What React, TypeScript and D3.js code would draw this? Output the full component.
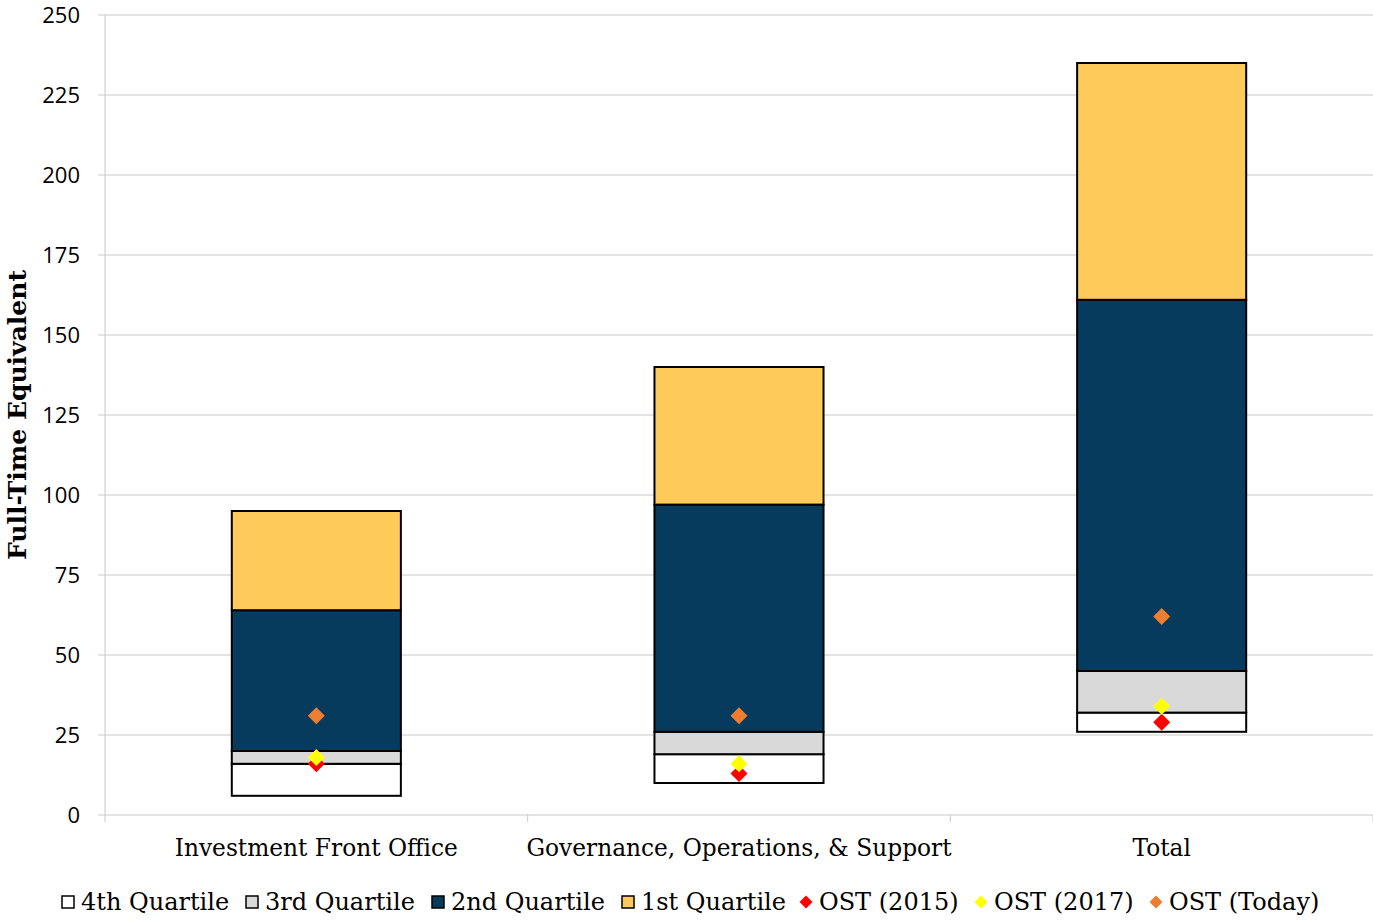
import React from "react";
import * as d3 from "d3";

const categories = ["Investment Front Office", "Governance, Operations, & Support", "Total"];
const baseOffset = [6, 10, 26];
const q4 = [10, 9, 6];
const q3 = [4, 7, 13];
const q2 = [44, 71, 116];
const q1 = [31, 43, 74];
const ost2015 = [16, 13, 29];
const ost2017 = [18, 16, 34];
const ostToday = [31, 31, 62];
const yTicks = [0, 25, 50, 75, 100, 125, 150, 175, 200, 225, 250];

const stackSeries = [
  { name: "4th Quartile", values: q4, color: "#FFFFFF" },
  { name: "3rd Quartile", values: q3, color: "#D9D9D9" },
  { name: "2nd Quartile", values: q2, color: "#073B5E" },
  { name: "1st Quartile", values: q1, color: "#FECB5A" },
];
const pointSeries = [
  { name: "OST (2015)", values: ost2015, color: "#FF0000" },
  { name: "OST (2017)", values: ost2017, color: "#FFFF00" },
  { name: "OST (Today)", values: ostToday, color: "#ED7D31" },
];

const W = 1373, H = 923;
const left = 105, right = 1373, top = 15, bottom = 815;
const serif = "'DejaVu Serif', serif";
const sans = "'Open Sans', sans-serif";

export default function App() {
  const x = d3.scaleBand<string>().domain(categories).range([left, right]).paddingInner(0).paddingOuter(0);
  const y = d3.scaleLinear().domain([0, 250]).range([bottom, top]);
  const bw = x.bandwidth() * 0.4;
  const diamond = (cx: number, cy: number, r: number) =>
    `M${cx},${cy - r}L${cx + r},${cy}L${cx},${cy + r}L${cx - r},${cy}Z`;

  const legendItems = [
    ...stackSeries.map((s) => ({ ...s, kind: "rect" })),
    ...pointSeries.map((s) => ({ ...s, kind: "diamond" })),
  ];
  const legendX = [62, 246, 432, 622, 800, 975, 1150];

  return (
    <svg width={W} height={H} style={{ display: "block", position: "absolute", left: 0, top: 0 }}>
      <rect width={W} height={H} fill="#fff" />
      {yTicks.map((t) => (
        <g key={t}>
          {t > 0 && <line x1={left} x2={right} y1={y(t)} y2={y(t)} stroke="#C8C8C8" strokeWidth={1} />}
          <line x1={left - 7} x2={left} y1={y(t)} y2={y(t)} stroke="#C8C8C8" />
          <text x={80} y={y(t)} dy="0.36em" textAnchor="end" fontFamily={sans} fontSize={22} fill="#000">{t}</text>
        </g>
      ))}
      <line x1={left} x2={left} y1={top} y2={bottom} stroke="#C8C8C8" />
      <line x1={left} x2={right} y1={bottom} y2={bottom} stroke="#C8C8C8" />
      {[left, left + x.bandwidth(), left + 2 * x.bandwidth(), right].map((v, i) => (
        <line key={i} x1={v} x2={v} y1={bottom} y2={bottom + 7} stroke="#C8C8C8" />
      ))}
      {categories.map((c, i) => {
        const cx = (x(c) as number) + x.bandwidth() / 2;
        let acc = baseOffset[i];
        return (
          <g key={c}>
            {stackSeries.map((s) => {
              const y0 = acc;
              acc += s.values[i];
              return (
                <rect key={s.name} x={cx - bw / 2} width={bw} y={y(acc)} height={y(y0) - y(acc)}
                  fill={s.color} stroke="#000" strokeWidth={2} />
              );
            })}
            {pointSeries.map((p) => (
              <path key={p.name} d={diamond(cx, y(p.values[i]), 8.5)} fill={p.color} />
            ))}
            <text x={cx} y={856} textAnchor="middle" fontFamily={serif} fontSize={23.3} fill="#000">{c}</text>
          </g>
        );
      })}
      <text transform={`translate(26,${415}) rotate(-90)`} textAnchor="middle" fontFamily={serif}
        fontWeight="bold" fontSize={25} fill="#000">Full-Time Equivalent</text>
      {legendItems.map((it, i) => (
        <g key={it.name} transform={`translate(${legendX[i]},902)`}>
          {it.kind === "rect" ? (
            <rect x={0} y={-6} width={12} height={12} fill={it.color} stroke="#000" strokeWidth={1.5} />
          ) : (
            <path d={diamond(6, 0, 6.5)} fill={it.color} />
          )}
          <text x={19} y={0} dy="0.35em" fontFamily={serif} fontSize={24} fill="#000">{it.name}</text>
        </g>
      ))}
    </svg>
  );
}
